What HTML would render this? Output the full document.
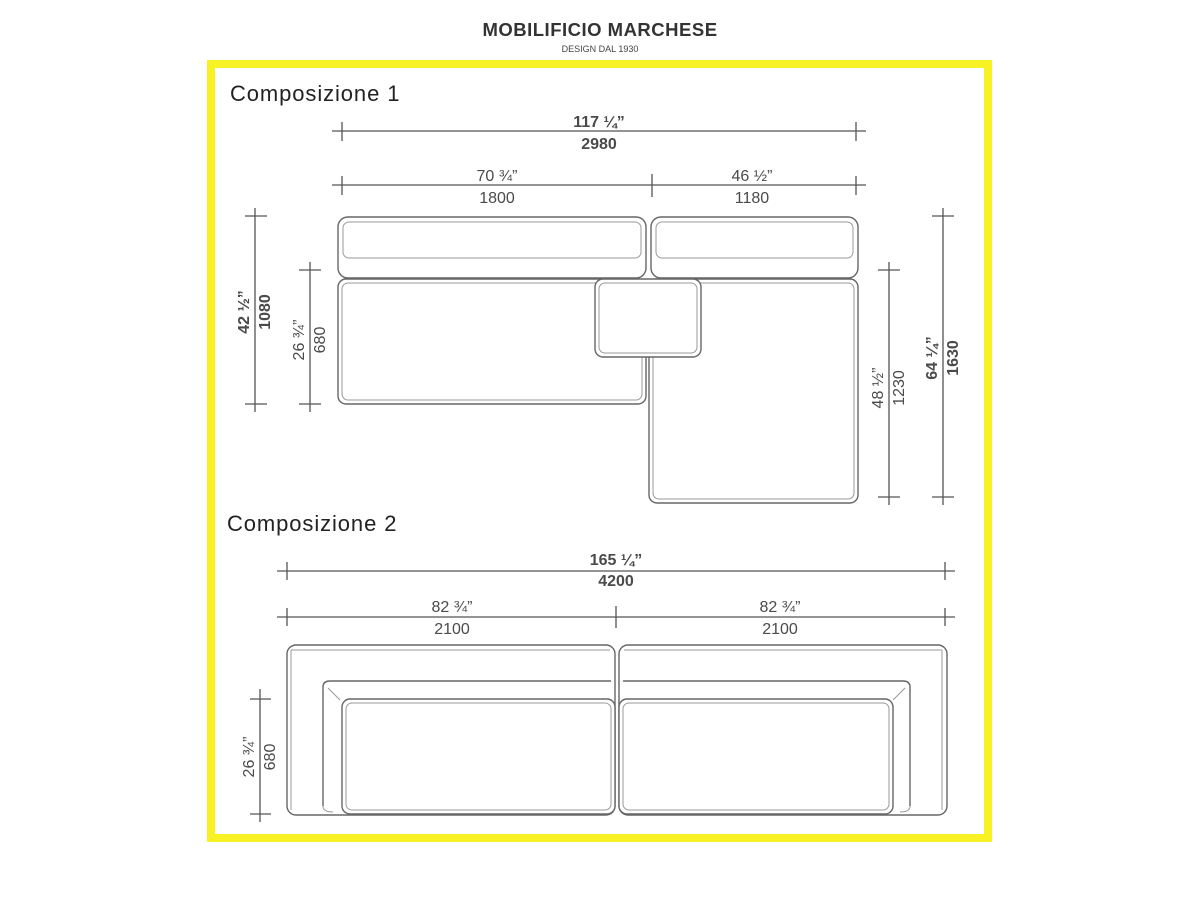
<!DOCTYPE html>
<html><head><meta charset="utf-8"><style>
html,body{margin:0;padding:0;background:#fff;width:1200px;height:900px;overflow:hidden}
svg{display:block}
.d{font-family:"Liberation Sans",Arial,sans-serif;font-size:16px;fill:#4a4a4a;text-anchor:middle}
.b{font-weight:bold}
.ln{stroke:#555;stroke-width:1.3;fill:none}
.s{fill:#fff;stroke:#666;stroke-width:1.4}
.i{fill:none;stroke:#999;stroke-width:1}
</style></head><body>
<svg width="1200" height="900" viewBox="0 0 1200 900" xmlns="http://www.w3.org/2000/svg">
<text x="600" y="36" font-family="Liberation Sans,sans-serif" font-weight="bold" font-size="18.5" fill="#333" text-anchor="middle" letter-spacing="0.5">MOBILIFICIO MARCHESE</text>
<text x="600" y="52" font-family="Liberation Sans,sans-serif" font-size="9" fill="#444" text-anchor="middle">DESIGN DAL 1930</text>
<rect x="211" y="64" width="777" height="774" fill="none" stroke="#f8f224" stroke-width="8"/>
<text x="230" y="101" font-family="Liberation Sans,sans-serif" font-size="22" letter-spacing="0.9" fill="#222">Composizione 1</text>
<text x="227" y="531" font-family="Liberation Sans,sans-serif" font-size="22" letter-spacing="0.9" fill="#222">Composizione 2</text>

<!-- Comp 1 dims -->
<g class="ln">
<path d="M332 131H866 M342 122V141 M856 122V141"/>
<path d="M332 185H866 M342 176V195 M652 174V197 M856 176V195"/>
<path d="M255 208V412 M245 216H267 M245 404H267"/>
<path d="M310 262V412 M299 270H321 M299 404H321"/>
<path d="M889 262V505 M878 270H900 M878 497H900"/>
<path d="M943 208V505 M932 216H954 M932 497H954"/>
<path d="M277 571H955 M287 562V580 M945 562V580"/>
<path d="M277 617H955 M287 608V626 M616 606V628 M945 608V626"/>
<path d="M260 689V822 M250 699H271 M250 814H271"/>
</g>
<text class="d b" x="599" y="127">117 ¼”</text>
<text class="d b" x="599" y="149">2980</text>
<text class="d" x="497" y="181">70 ¾”</text>
<text class="d" x="497" y="203">1800</text>
<text class="d" x="752" y="181">46 ½”</text>
<text class="d" x="752" y="203">1180</text>
<text class="d b" transform="translate(249,312) rotate(-90)">42 ½”</text>
<text class="d b" transform="translate(270,312) rotate(-90)">1080</text>
<text class="d" transform="translate(304,340) rotate(-90)">26 ¾”</text>
<text class="d" transform="translate(325,340) rotate(-90)">680</text>
<text class="d" transform="translate(883,388) rotate(-90)">48 ½”</text>
<text class="d" transform="translate(904,388) rotate(-90)">1230</text>
<text class="d b" transform="translate(937,358) rotate(-90)">64 ¼”</text>
<text class="d b" transform="translate(958,358) rotate(-90)">1630</text>

<text class="d b" x="616" y="565">165 ¼”</text>
<text class="d b" x="616" y="586">4200</text>
<text class="d" x="452" y="612">82 ¾”</text>
<text class="d" x="452" y="634">2100</text>
<text class="d" x="780" y="612">82 ¾”</text>
<text class="d" x="780" y="634">2100</text>
<text class="d" transform="translate(254,757) rotate(-90)">26 ¾”</text>
<text class="d" transform="translate(275,757) rotate(-90)">680</text>

<!-- Comp 1 sofa -->
<rect class="s" x="338" y="217" width="308" height="61" rx="10"/>
<rect class="i" x="343" y="222" width="298" height="36" rx="6"/>
<rect class="s" x="651" y="217" width="207" height="61" rx="10"/>
<rect class="i" x="656" y="222" width="197" height="36" rx="6"/>
<rect class="s" x="338" y="279" width="308" height="125" rx="8"/>
<rect class="i" x="342" y="283" width="300" height="117" rx="6"/>
<rect class="s" x="649" y="279" width="209" height="224" rx="8"/>
<rect class="i" x="653" y="283" width="201" height="216" rx="6"/>
<rect class="s" x="595" y="279" width="106" height="78" rx="8"/>
<rect class="i" x="599" y="283" width="98" height="70" rx="6"/>

<!-- Comp 2 sofa -->
<rect class="s" x="287" y="645" width="328" height="170" rx="9"/>
<rect class="s" x="619" y="645" width="328" height="170" rx="9"/>
<path class="i" d="M291 650H610 M624 650H942 M291 650V810 M942 650V810"/>
<path class="s" d="M323 806V687Q323 681 330 681H611 M910 806V687Q910 681 903 681H623"/>
<path class="i" d="M323 806Q323 812 333 812 M910 806Q910 812 900 812"/>
<path class="i" d="M328 688L340 700 M905 688L893 700"/>
<rect class="s" x="342" y="699" width="273" height="115" rx="8"/>
<rect class="i" x="346" y="703" width="265" height="107" rx="6"/>
<rect class="s" x="619" y="699" width="274" height="115" rx="8"/>
<rect class="i" x="623" y="703" width="266" height="107" rx="6"/>
</svg>
</body></html>
